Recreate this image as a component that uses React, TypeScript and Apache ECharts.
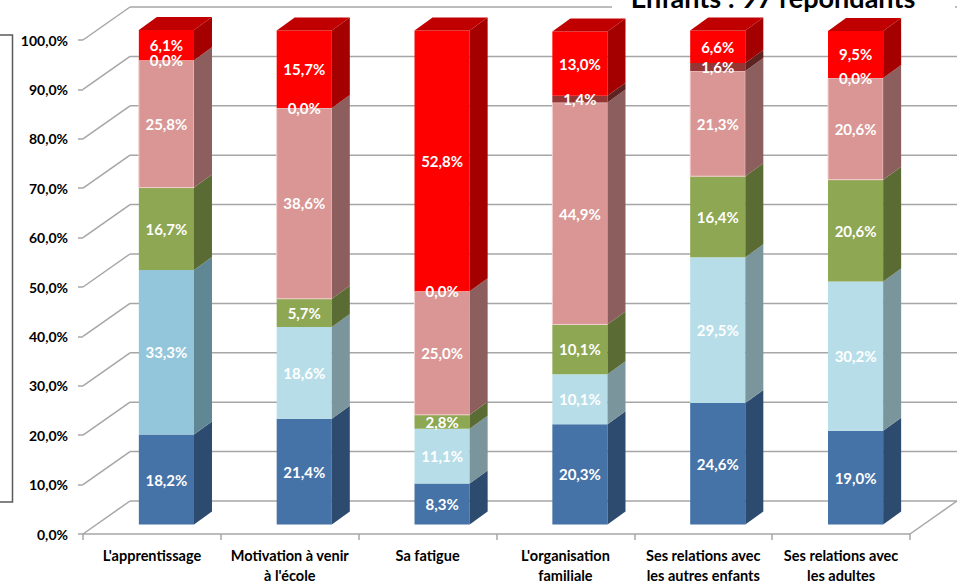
import React, { useEffect, useRef } from "react";
import * as echarts from "echarts";

const categories = [
  "L'apprentissage",
  "Motivation à venir\nà l'école",
  "Sa fatigue",
  "L'organisation\nfamiliale",
  "Ses relations avec\nles autres enfants",
  "Ses relations avec\nles adultes",
];
const seriesNames = ["Série 1", "Série 2", "Série 3", "Série 4", "Série 5", "Série 6"];
const serie1 = [18.2, 21.4, 8.3, 20.3, 24.6, 19.0];
const serie2 = [33.3, 18.6, 11.1, 10.1, 29.5, 30.2];
const serie3 = [16.7, 5.7, 2.8, 10.1, 16.4, 20.6];
const serie4 = [25.8, 38.6, 25.0, 44.9, 21.3, 20.6];
const serie5 = [0.0, 0.0, 0.0, 1.4, 1.6, 0.0];
const serie6 = [6.1, 15.7, 52.8, 13.0, 6.6, 9.5];
const gridValues = [0, 10, 20, 30, 40, 50, 60, 70, 80, 90, 100];
const titleText = "Enfants : 97 répondants";

const allSeries = [serie1, serie2, serie3, serie4, serie5, serie6];

const frontColors = ["#4572A7", "#B7DEE8", "#8DA752", "#D99694", "#963634", "#FF0000"];
const sideColors = ["#2D4A6F", "#7A959B", "#5A6C33", "#8C5F5E", "#5E2221", "#A50000"];
const topColors = ["#3A6090", "#9CC3CE", "#728C42", "#C07F7D", "#7E2B2A", "#C00000"];
// first bar of series 2 has a more saturated blue in the original
const frontOverride: Record<string, string> = { "1-0": "#93C6DB" };
const sideOverride: Record<string, string> = { "1-0": "#5F8794" };

const FX = 14.5; // bar front plane offset from axis front plane
const FY = -9.5;
const DX = 18; // bar depth
const DY = -13;
const WX = 47; // wall depth
const WY = -33;
const GRID_COLOR = "#A6A6A6";
const FONT = "Lato, 'Open Sans', sans-serif";

const fmt = (v: number) => v.toFixed(1).replace(".", ",") + "%";

export default function App() {
  const ref = useRef<HTMLDivElement>(null);
  useEffect(() => {
    if (!ref.current) return;
    const chart = echarts.init(ref.current, undefined, { renderer: "svg" });

    const bases = allSeries.map((_, si) =>
      categories.map((__, ci) => {
        let b = 0;
        for (let k = 0; k < si; k++) b += allSeries[k][ci];
        return b;
      })
    );
    const topIndex = categories.map((_, ci) => {
      let t = 0;
      allSeries.forEach((s, si) => {
        if (s[ci] > 0) t = si;
      });
      return t;
    });

    const barSeries = allSeries.map((vals, si) => ({
      type: "custom",
      name: seriesNames[si],
      z: 3,
      silent: true,
      encode: { x: 0, y: [1, 2] },
      data: vals.map((v, ci) => [ci, bases[si][ci], v]),
      renderItem: (params: any, api: any) => {
        const ci = api.value(0);
        const base = api.value(1);
        const val = api.value(2);
        const bw = api.size([1, 0])[0] * 0.4;
        const pB = api.coord([ci, base]);
        const pT = api.coord([ci, base + val]);
        const left = pB[0] + FX - bw / 2;
        const right = left + bw;
        const yB = pB[1] + FY;
        const yT = pT[1] + FY;
        const key = si + "-" + ci;
        const fc = frontOverride[key] || frontColors[si];
        const sc = sideOverride[key] || sideColors[si];
        const children: any[] = [];
        if (val > 0) {
          children.push({
            type: "rect",
            z2: 1,
            shape: { x: left, y: yT, width: bw, height: yB - yT },
            style: si === 3 ? { fill: fc, stroke: "#F2CFCE", lineWidth: 1 } : { fill: fc },
          });
          children.push({
            type: "polygon",
            z2: 1,
            shape: {
              points: [
                [right, yT],
                [right + DX, yT + DY],
                [right + DX, yB + DY],
                [right, yB],
              ],
            },
            style: { fill: sc },
          });
          if (topIndex[ci] === si) {
            children.push({
              type: "polygon",
              z2: 1,
              shape: {
                points: [
                  [left, yT],
                  [left + DX, yT + DY],
                  [right + DX, yT + DY],
                  [right, yT],
                ],
              },
              style: { fill: topColors[si] },
            });
          }
        }
        children.push({
          type: "text",
          z2: 100,
          style: {
            text: fmt(val),
            x: left + bw / 2,
            y: (yT + yB) / 2,
            fill: "#FFFFFF",
            font: "bold 15px " + FONT,
            align: "center",
            verticalAlign: "middle",
          },
        });
        return { type: "group", children };
      },
    }));

    const gridSeries = {
      type: "custom",
      name: "grid",
      z: 1,
      silent: true,
      encode: { x: 0, y: 1 },
      data: gridValues.map((v) => [0, v]),
      renderItem: (params: any, api: any) => {
        const cs = params.coordSys;
        const v = api.value(1);
        const y = api.coord([0, v])[1];
        const x0 = cs.x;
        const x1 = cs.x + cs.width;
        const st = { stroke: GRID_COLOR, lineWidth: 1.5 };
        const children: any[] = [
          { type: "line", shape: { x1: x0, y1: y, x2: x0 + WX, y2: y + WY }, style: st },
          { type: "line", shape: { x1: x0 + WX, y1: y + WY, x2: x1 + WX, y2: y + WY }, style: st },
        ];
        if (v === 0) {
          children.push({ type: "line", shape: { x1: x1, y1: y, x2: x1 + WX, y2: y + WY }, style: st });
        }
        return { type: "group", children };
      },
    };

    chart.setOption({
      animation: false,
      backgroundColor: "#FFFFFF",
      grid: { left: 83, right: 51, top: 40, bottom: 50, containLabel: false },
      xAxis: {
        type: "category",
        data: categories,
        axisLine: { show: true, lineStyle: { color: GRID_COLOR, width: 1.5 } },
        axisTick: { show: true, length: 6, lineStyle: { color: GRID_COLOR, width: 1.5 } },
        axisLabel: {
          color: "#000000",
          fontWeight: "bold",
          fontSize: 14.5,
          fontFamily: FONT,
          lineHeight: 20,
          margin: 11,
          interval: 0,
        },
        splitLine: { show: false },
      },
      yAxis: {
        type: "value",
        min: 0,
        max: 100,
        interval: 10,
        axisLine: { show: false },
        axisTick: { show: true, length: 5, lineStyle: { color: GRID_COLOR, width: 1.5 } },
        axisLabel: {
          color: "#000000",
          fontWeight: "bold",
          fontSize: 14,
          fontFamily: FONT,
          margin: 15,
          padding: [5, 0, 0, 0],
          formatter: (v: number) => fmt(v),
        },
        splitLine: { show: false },
      },
      graphic: [
        {
          type: "polyline",
          z: 10,
          shape: { points: [[0, 35], [12.5, 35], [12.5, 502], [0, 502]] },
          style: { stroke: "#595959", lineWidth: 1.5, fill: "none" },
        },
        {
          type: "rect",
          z: 10,
          shape: { x: 612, y: 0, width: 343, height: 10 },
          style: { fill: "#FFFFFF" },
        },
        {
          type: "text",
          z: 11,
          style: {
            text: titleText,
            x: 773,
            y: 11,
            fill: "#000000",
            font: "bold 27px " + FONT,
            align: "center",
            verticalAlign: "bottom",
          },
        },
      ],
      series: [gridSeries, ...barSeries],
    });
    return () => chart.dispose();
  }, []);
  return (
    <div
      ref={ref}
      style={{ position: "absolute", left: 0, top: 0, width: 961, height: 585 }}
    />
  );
}
